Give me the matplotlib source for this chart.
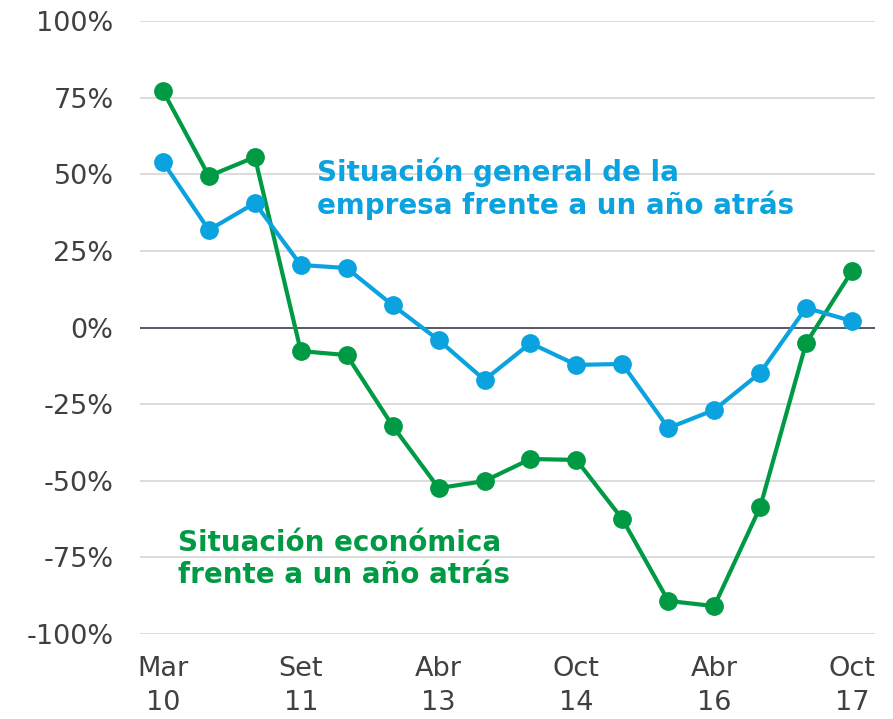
import matplotlib.pyplot as plt
from matplotlib.ticker import FuncFormatter

plt.rcParams['font.family'] = ['DejaVu Sans']

# fechas semestrales, solo algunas etiquetadas
periods = list(range(16))
tick_pos = [0, 3, 6, 9, 12, 15]
tick_labels = ['Mar\n10', 'Set\n11', 'Abr\n13', 'Oct\n14', 'Abr\n16', 'Oct\n17']

# situacion economica (verde)
economica = [77.2, 49.4, 55.6, -7.7, -9.0, -32.1, -52.4, -50.1, -42.9, -43.2,
             -62.5, -89.2, -90.9, -58.6, -5.1, 18.4]
# situacion general de la empresa (azul)
empresa = [54.0, 31.8, 40.6, 20.4, 19.4, 7.3, -4.1, -17.1, -5.1, -12.2,
           -11.9, -32.8, -26.9, -14.8, 6.4, 2.1]

green = '#009a44'
blue = '#0aa3e0'

fig = plt.figure(figsize=(8.93, 7.19), dpi=100)
ax = fig.add_axes([140/893, 1-634/719, 735/893, 613/719])

ax.plot(periods, economica, color=green, lw=3, marker='o', ms=12.5, zorder=3)
ax.plot(periods, empresa, color=blue, lw=3, marker='o', ms=12.5, zorder=4)

ax.set_ylim(-100, 100)
ax.set_xlim(-0.5, 15.5)
ax.set_yticks([-100, -75, -50, -25, 0, 25, 50, 75, 100])
ax.yaxis.set_major_formatter(FuncFormatter(lambda v, p: '%d%%' % v))
ax.set_xticks(tick_pos)
ax.set_xticklabels(tick_labels, linespacing=1.38)
ax.grid(axis='y', color='#d9d9d9', lw=1.3)
ax.axhline(0, color='#4a5060', lw=1.3, zorder=2)
for s in ax.spines.values():
    s.set_visible(False)
ax.tick_params(length=0, labelsize=19.5, colors='#404040')
ax.tick_params(axis='y', pad=19)
ax.tick_params(axis='x', pad=16)
ax.set_axisbelow(True)

ax.text(3.35, 45.2, 'Situación general de la\nempresa frente a un año atrás',
        color=blue, fontsize=20, fontweight='bold', va='center', ha='left',
        linespacing=1.15)
ax.text(0.33, -75.5, 'Situación económica\nfrente a un año atrás',
        color=green, fontsize=20, fontweight='bold', va='center', ha='left',
        linespacing=1.15)

fig.savefig('out.png', dpi=100)
